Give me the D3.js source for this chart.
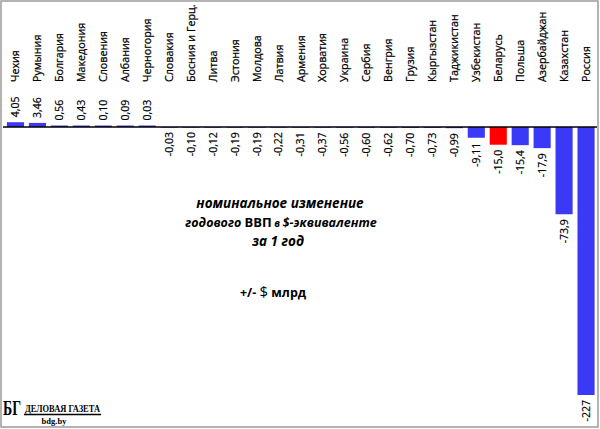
<!DOCTYPE html>
<html lang="ru">
<head>
<meta charset="UTF-8">
<title>Номинальное изменение ВВП</title>
<script src="https://d3js.org/d3.v7.min.js"></script>
<style>
    body { margin: 0; background: #fff; }
    svg { display: block; font-family: "Open Sans", "Noto Sans", sans-serif; }
    .cat { font-size: 10.7px; fill: #000; stroke: #000; stroke-width: 0.25px; }
    .val { font-size: 10.5px; fill: #000; stroke: #000; stroke-width: 0.2px; }
    .note { font-weight: bold; font-style: italic; fill: #000; }
</style>
</head>
<body>
<svg width="600" height="429"></svg>
<script>
    // Countries in chart order
    const countries = ["Чехия", "Румыния", "Болгария", "Македония", "Словения", "Албания", "Черногория",
        "Словакия", "Босния и Герц.", "Литва", "Эстония", "Молдова", "Латвия", "Армения", "Хорватия",
        "Украина", "Сербия", "Венгрия", "Грузия", "Кыргызстан", "Таджикистан", "Узбекистан", "Беларусь",
        "Польша", "Азербайджан", "Казахстан", "Россия"];

    // change of annual GDP, $ bn
    const values = [4.05, 3.46, 0.56, 0.43, 0.10, 0.09, 0.03,
        -0.03, -0.10, -0.12, -0.19, -0.19, -0.22, -0.31, -0.37,
        -0.56, -0.60, -0.62, -0.70, -0.73, -0.99, -9.11, -15.0,
        -15.4, -17.9, -73.9, -227];

    // labels as printed (comma decimals)
    const valueLabels = ["4,05", "3,46", "0,56", "0,43", "0,10", "0,09", "0,03",
        "-0,03", "-0,10", "-0,12", "-0,19", "-0,19", "-0,22", "-0,31", "-0,37",
        "-0,56", "-0,60", "-0,62", "-0,70", "-0,73", "-0,99", "-9,11", "-15,0",
        "-15,4", "-17,9", "-73,9", "-227"];

    const highlight = "Беларусь";

    const svg = d3.select("svg");

    // outer frame
    svg.append("rect")
        .attr("x", 1).attr("y", 1)
        .attr("width", 597).attr("height", 426)
        .attr("fill", "none")
        .attr("stroke", "#9a9a9a")
        .attr("stroke-width", 1.5);

    const x = d3.scaleBand()
        .domain(countries)
        .range([4.5, 597])
        .paddingInner(0.22)
        .paddingOuter(0.11);

    const y = d3.scaleLinear()
        .domain([-227, 0])
        .range([395, 127]);

    const rows = countries.map((c, i) => ({name: c, v: values[i], label: valueLabels[i]}));

    // bars
    svg.selectAll(".bar")
        .data(rows)
        .join("rect")
        .attr("class", "bar")
        .attr("x", d => x(d.name))
        .attr("width", x.bandwidth())
        .attr("y", d => d.v >= 0 ? Math.min(y(d.v), y(0) - 1.5) : y(0))
        .attr("height", d => Math.max(Math.abs(y(d.v) - y(0)), d.v >= 0 ? 1.5 : 0.6))
        .attr("fill", d => d.name === highlight ? "#ff0000" : "#3a3af6");

    // zero line
    svg.append("line")
        .attr("x1", 3).attr("x2", 597)
        .attr("y1", y(0)).attr("y2", y(0))
        .attr("stroke", "#000")
        .attr("stroke-width", 1.3);

    // category names
    svg.selectAll(".cat")
        .data(rows)
        .join("text")
        .attr("class", "cat")
        .attr("transform", d => `translate(${x(d.name) + x.bandwidth() / 2},82) rotate(-90)`)
        .attr("dy", "0.35em")
        .text(d => d.name);

    // value labels
    svg.selectAll(".val")
        .data(rows)
        .join("text")
        .attr("class", "val")
        .attr("transform", d => {
            const cx = x(d.name) + x.bandwidth() / 2;
            const yy = d.v >= 0 ? Math.min(y(d.v), y(0) - 1.5) - 5 : Math.max(y(d.v), y(0)) + 5;
            return `translate(${cx},${yy}) rotate(-90)`;
        })
        .attr("text-anchor", d => d.v >= 0 ? "start" : "end")
        .attr("dy", "0.35em")
        .text(d => d.label);

    // annotation
    const note = svg.append("text")
        .attr("class", "note")
        .attr("text-anchor", "middle");
    note.append("tspan").attr("x", 280).attr("y", 208).style("font-size", "13.5px")
        .text("номинальное изменение");
    const l2 = note.append("tspan").attr("x", 281).attr("y", 227).style("font-size", "12.5px");
    l2.append("tspan").text("годового  ");
    l2.append("tspan").style("font-style", "normal").style("font-size", "13px").text("ВВП");
    l2.append("tspan").style("font-size", "10px").text(" в ");
    l2.append("tspan").text("$-эквиваленте");
    note.append("tspan").attr("x", 278).attr("y", 246).style("font-size", "13.5px")
        .text("за 1 год");

    const unit = svg.append("text")
        .attr("x", 273).attr("y", 297)
        .attr("text-anchor", "middle")
        .style("font-weight", "bold")
        .style("font-size", "12.5px");
    unit.append("tspan").text("+/- ");
    unit.append("tspan").style("font-size", "15px").style("font-weight", "normal").text("$");
    unit.append("tspan").text(" млрд");

    // logo
    const logo = svg.append("g").attr("font-family", "'Liberation Serif', serif").attr("font-weight", "bold");
    logo.append("text").attr("x", 3).attr("y", 415)
        .attr("font-size", "20px")
        .attr("textLength", 18).attr("lengthAdjust", "spacingAndGlyphs")
        .text("БГ");
    logo.append("text").attr("x", 25).attr("y", 412.5)
        .attr("font-size", "10px")
        .attr("textLength", 75).attr("lengthAdjust", "spacingAndGlyphs")
        .attr("transform", "translate(0,412.5) scale(1,1.1) translate(0,-412.5)")
        .text("ДЕЛОВАЯ ГАЗЕТА");
    logo.append("line")
        .attr("x1", 24).attr("x2", 101)
        .attr("y1", 414.5).attr("y2", 414.5)
        .attr("stroke", "#000").attr("stroke-width", 1.4);
    logo.append("text").attr("x", 54).attr("y", 424)
        .attr("text-anchor", "middle")
        .attr("font-size", "8.5px")
        .text("bdg.by");
</script>
</body>
</html>
